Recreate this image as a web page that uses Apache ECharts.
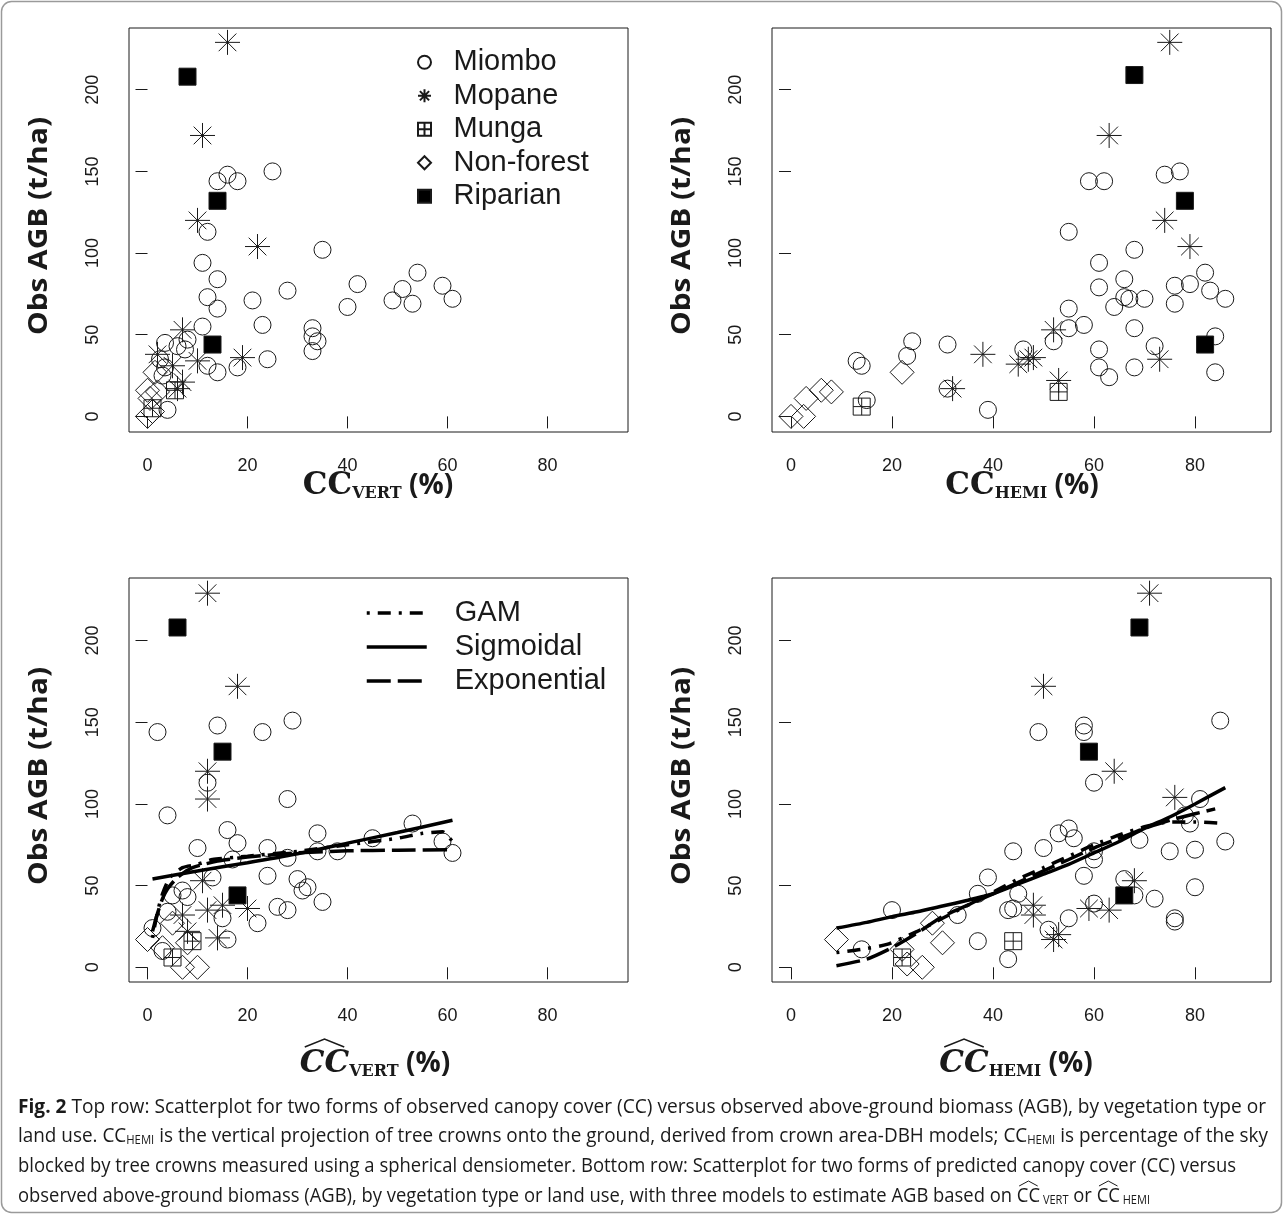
<!DOCTYPE html>
<html><head><meta charset="utf-8">
<script src="https://cdn.jsdelivr.net/npm/echarts@6/dist/echarts.min.js"></script>
<style>html,body{margin:0;padding:0;background:#fff}#c{width:1284px;height:1215px}</style>
</head><body><div id="c"></div>
<script>
// ---------- tick labels ----------
const xTicks = [0, 20, 40, 60, 80];
const yTicks = [0, 50, 100, 150, 200];
const vegTypes = ['Miombo', 'Mopane', 'Munga', 'Non-forest', 'Riparian'];
const modelNames = ['GAM', 'Sigmoidal', 'Exponential'];

// ---------- top-left: CC_VERT vs Obs AGB ----------
const tlMiombo = [[25,150],[16,148],[14,144],[18,144],[12,113],[35,102],[11,94],[54,88],[14,84],[42,81],[59,80],[51,78],[28,77],[12,73],[21,71],[49,71],[61,72],[53,69],[40,67],[14,66],[23,56],[11,55],[33,54],[33,49],[34,46],[8,47],[3.5,45],[6,43],[33,40],[7.5,41],[24,35],[2.5,35],[12,31],[18,30],[14,27],[3.5,30],[4,4],[3,25]];
const tlMopane = [[16,229],[11,172],[10,120],[22,104],[7,53],[2,38],[19,36],[10,34],[5,31],[7,21],[6,17]];
const tlMunga = [[1,5],[5.5,16]];
const tlNonForest = [[0,0],[1,3],[0.5,11],[0,16],[2,15],[1.5,27]];
const tlRiparian = [[8,208],[14,132],[13,44]];

// ---------- top-right: CC_HEMI vs Obs AGB ----------
const trMiombo = [[13,34],[14,31],[15,10],[24,46],[23,37],[31,44],[31,17],[39,4],[46,41],[55,113],[59,144],[62,144],[74,148],[77,150],[68,102],[61,94],[61,79],[66,84],[67,72],[66,73],[64,67],[70,72],[76,80],[76,69],[79,81],[82,88],[83,77],[86,72],[55,66],[55,54],[58,56],[52,46],[61,41],[61,30],[63,24],[68,54],[68,30],[72,43],[84,49],[84,27]];
const trMopane = [[75,229],[63,172],[74,120],[79,104],[52,53],[38,38],[48,36],[47,35],[45,32],[73,35],[53,22],[32,17]];
const trMunga = [[14,6],[53,15]];
const trNonForest = [[0,0],[2.5,0],[3,11],[6,16],[8,15],[22,27]];
const trRiparian = [[68,209],[78,132],[82,44]];

// ---------- bottom-left: predicted CC_VERT vs Obs AGB ----------
const blMiombo = [[2,144],[14,148],[23,144],[29,151],[12,113],[4,93],[28,103],[16,84],[18,76],[10,73],[24,73],[34,82],[34,71],[38,71],[45,79],[53,88],[59,77],[61,70],[28,67],[17,66],[24,56],[30,54],[32,49],[31,47],[35,40],[26,37],[28,35],[22,27],[13,55],[15,30],[16,17],[7,47],[8,43],[5,44],[4,34],[1,24],[3,10]];
const blMopane = [[12,229],[18,172],[12,120],[12,103],[11,53],[15,38],[20,36],[12,35],[7,32],[8,22],[14,18]];
const blMunga = [[5,6],[9,16]];
const blNonForest = [[0,17],[7,0],[10,0],[3,12],[8,15],[5,27]];
const blRiparian = [[6,208],[15,132],[18,44]];
const blGAM = [[1,18],[2,34],[3,45],[4.5,55],[7,61],[10,63],[13,66],[20,68],[30,71],[40,75],[50,79],[55,82],[59,83],[61,77]];
const blSigmoidal = [[1,54],[10,59],[20,64],[30,69.5],[40,76],[50,82.5],[61,90]];
const blExponential = [[1,22],[2,33],[3,42],[4,48],[6,55],[9,61],[14,65],[20,67.5],[30,70],[40,71.3],[50,71.7],[61,72]];

// ---------- bottom-right: predicted CC_HEMI vs Obs AGB ----------
const brMiombo = [[49,144],[58,148],[58,144],[85,151],[60,113],[81,103],[78,93],[55,85],[53,82],[56,79],[50,73],[44,71],[60,71],[60,66],[69,78],[75,71],[80,72],[86,77],[79,88],[58,56],[66,54],[68,44],[72,42],[80,49],[76,30],[76,28],[55,30],[51,23],[60,39],[44,36],[43,35],[39,55],[37,45],[45,45],[20,35],[33,32],[14,11],[37,16],[43,5]];
const brMopane = [[71,229],[50,172],[64,120],[76,104],[68,53],[48,38],[48,32],[59,36],[63,35],[53,20],[52,17]];
const brMunga = [[22,6],[44,16]];
const brNonForest = [[9,17],[28,27],[30,15],[26,0],[22,11],[23,2]];
const brRiparian = [[69,208],[59,132],[66,44]];
const brGAM = [[9,9],[14,11],[19,14],[25,22],[30,30],[35,38],[40,46],[45,54],[50,61],[55,68],[60,75],[65,81],[70,86],[75,89],[80,89],[86,88]];
const brSigmoidal = [[9,24],[15,27.5],[20,31],[25,34],[30,37.5],[35,41],[40,45],[45,51],[50,57],[55,63],[60,70],[65,77],[70,85],[75,92],[80,100],[86,110]];
const brExponential = [[9,1],[15,5],[20,12],[25,21],[30,31],[35,38],[40,45],[45,52],[50,59],[55,66],[60,73],[65,79],[70,85],[75,90],[80,94],[84,97]];

// ---------- layout ----------
const INK = '#1a1a1a';
const grids = [
  {left:129, top:28, width:499, height:404},
  {left:772, top:28, width:499, height:404},
  {left:129, top:578, width:499, height:404},
  {left:772, top:578, width:499, height:404}
];
const xRanges = [[-3.7,96.1],[-3.76,95.05],[-3.7,96.1],[-3.76,95.05]];
const yRanges = [[-9.55,237.8],[-9.55,237.8],[-9.0,238.3],[-9.0,238.3]];

const STAR = 'path://M0,-10L0,10M-10,0L10,0M-7.07,-7.07L7.07,7.07M-7.07,7.07L7.07,-7.07';
const BOXPLUS = 'path://M0,0L10,0L10,10L0,10ZM5,0L5,10M0,5L10,5';
const DIAMOND = 'path://M0,-10L10,0L0,10L-10,0Z';
const SQUARE = 'path://M0,0L10,0L10,10L0,10Z';
const symDefs = {
  'Miombo': {symbol:'circle', size:17, fill:'rgba(0,0,0,0)'},
  'Mopane': {symbol:STAR, size:25, fill:'rgba(0,0,0,0)'},
  'Munga': {symbol:BOXPLUS, size:17, fill:'rgba(0,0,0,0)'},
  'Non-forest': {symbol:DIAMOND, size:24, fill:'rgba(0,0,0,0)'},
  'Riparian': {symbol:SQUARE, size:17, fill:'#000'}
};
const panelData = [
  [tlMiombo, tlMopane, tlMunga, tlNonForest, tlRiparian],
  [trMiombo, trMopane, trMunga, trNonForest, trRiparian],
  [blMiombo, blMopane, blMunga, blNonForest, blRiparian],
  [brMiombo, brMopane, brMunga, brNonForest, brRiparian]
];
const modelData = {2:[blGAM, blSigmoidal, blExponential], 3:[brGAM, brSigmoidal, brExponential]};
const dashes = {'GAM':[3,8,13,8], 'Sigmoidal':'solid', 'Exponential':[24,7]};

const series = [];
panelData.forEach((arrs, g) => {
  arrs.forEach((d, i) => {
    const name = vegTypes[i], s = symDefs[name];
    series.push({type:'scatter', name, xAxisIndex:g, yAxisIndex:g, data:d, symbol:s.symbol, symbolSize:s.size,
      itemStyle:{color:s.fill, borderColor:INK, borderWidth:1, opacity:1}, z:2, silent:true});
  });
});
Object.keys(modelData).forEach(g => {
  modelData[g].forEach((d, i) => {
    const name = modelNames[i];
    series.push({type:'line', name, xAxisIndex:+g, yAxisIndex:+g, data:d, symbol:'none', showSymbol:false, smooth:0.2,
      lineStyle:{color:'#000', width:3.5, type:dashes[name]}, itemStyle:{color:'#000'}, z:4, silent:true});
  });
});

const xAxis = grids.map((gr, g) => ({type:'value', gridIndex:g, min:xRanges[g][0], max:xRanges[g][1],
  axisLine:{show:false}, splitLine:{show:false},
  axisTick:{show:true, length:12, customValues:xTicks, lineStyle:{color:INK, width:1}},
  axisLabel:{customValues:xTicks, margin:25, fontSize:18, fontFamily:'Liberation Sans', color:INK}}));
const yAxis = grids.map((gr, g) => ({type:'value', gridIndex:g, min:yRanges[g][0], max:yRanges[g][1],
  axisLine:{show:false}, splitLine:{show:false},
  axisTick:{show:true, length:12, customValues:yTicks, lineStyle:{color:INK, width:1}},
  axisLabel:{customValues:yTicks, rotate:90, margin:27, fontSize:18, fontFamily:'Liberation Sans', color:INK}}));

// ---------- text layout helpers ----------
const mctx = document.createElement('canvas').getContext('2d');
function tw(t, f){ mctx.font = f; return mctx.measureText(t).width; }
const graphics = [];
function placeSegs(segs, x0, yc, sc, hatOpt){
  let x = x0;
  segs.forEach(s => {
    const w = tw(s.t, s.f) * sc;
    graphics.push({type:'text', x:x, y:yc + (s.dy || 0), scaleX:sc, silent:true,
      style:{text:s.t, font:s.f, fill:s.c || INK, verticalAlign:'middle', align:'left'}});
    if (s.hat) {
      const h = hatOpt;
      graphics.push({type:'polyline', silent:true, shape:{points:[[x + w*0.1, yc + h.base],[x + w*0.5, yc + h.peak],[x + w*0.9, yc + h.base]]},
        style:{stroke:INK, lineWidth:h.lw, fill:null}});
    }
    x += w;
  });
  return x;
}
function segsWidth(segs, sc){ return segs.reduce((a, s) => a + tw(s.t, s.f) * sc, 0); }

// caption (per-line widths)
const CAP = '20px "Open Sans"', CAPB = 'bold 20px "Open Sans"', CSUB = '12px "Open Sans"';
const capLines = [
  [{t:'Fig. 2', f:CAPB}, {t:' Top row: Scatterplot for two forms of observed canopy cover (CC) versus observed above-ground biomass (AGB), by vegetation type or', f:CAP}],
  [{t:'land use. CC', f:CAP}, {t:'HEMI', f:CSUB, dy:5}, {t:' is the vertical projection of tree crowns onto the ground, derived from crown area-DBH models; CC', f:CAP}, {t:'HEMI', f:CSUB, dy:5}, {t:' is percentage of the sky', f:CAP}],
  [{t:'blocked by tree crowns measured using a spherical densiometer. Bottom row: Scatterplot for two forms of predicted canopy cover (CC) versus', f:CAP}],
  [{t:'observed above-ground biomass (AGB), by vegetation type or land use, with three models to estimate AGB based on ', f:CAP}, {t:'CC', f:CAP, hat:true}, {t:' VERT', f:CSUB, dy:5}, {t:' or ', f:CAP}, {t:'CC', f:CAP, hat:true}, {t:' HEMI', f:CSUB, dy:5}]
];
const capWidths = [1248, 1250, 1218, 1132];
const capY = [1107, 1136, 1166, 1196];
capLines.forEach((l, i) => placeSegs(l, 18, capY[i], capWidths[i] / segsWidth(l, 1), {base:-10, peak:-15, lw:1}));

// axis titles
const TSER = 'bold 31px "DejaVu Serif"', TSERI = 'italic bold 31px "DejaVu Serif"', TSUB = 'bold 16px "DejaVu Serif"', TSANS = 'bold 28px "Open Sans"';
function xTitle(cx, cy, sub, hat){
  const segs = [{t:'CC', f: hat ? TSERI : TSER, hat:hat}, {t:sub, f:TSUB, dy:8}, {t:' (%)', f:TSANS}];
  const w = segsWidth(segs, 1);
  placeSegs(segs, cx - w/2, cy, 1, {base:-17, peak:-25, lw:1.6});
}
xTitle(378, 486, 'VERT', false);
xTitle(1022, 486, 'HEMI', false);
xTitle(375, 1064, 'VERT', true);
xTitle(1016, 1064, 'HEMI', true);

const YT = 'bold 27px "Open Sans"';
const ytScale = 218 / tw('Obs AGB (t/ha)', YT);
[[39,226],[682,226],[39,776],[682,776]].forEach(p => {
  graphics.push({type:'text', x:p[0], y:p[1], rotation:Math.PI/2, scaleX:ytScale, silent:true,
    style:{text:'Obs AGB (t/ha)', font:YT, fill:INK, align:'center', verticalAlign:'middle'}});
});

// figure frame
graphics.unshift({type:'rect', silent:true, z:-10, shape:{x:1.5, y:1.5, width:1280, height:1211, r:10},
  style:{fill:null, stroke:'#9a9a9a', lineWidth:1.5}});

const option = {
  animation:false,
  backgroundColor:'#fff',
  grid: grids.map(g => Object.assign({show:true, borderColor:INK, borderWidth:1, backgroundColor:'rgba(0,0,0,0)', containLabel:false, outerBoundsMode:'none'}, g)),
  xAxis, yAxis,
  legend:[
    {data:vegTypes, orient:'vertical', left:417, top:45.5, padding:0, itemGap:0, itemWidth:20, itemHeight:13, selectedMode:false,
     textStyle:{fontSize:29, fontFamily:'Liberation Sans', color:INK, lineHeight:33.5, padding:[0,0,0,14]}},
    {data:modelNames, orient:'vertical', left:365, top:596, padding:0, itemGap:0, itemWidth:60, itemHeight:14, selectedMode:false,
     itemStyle:{color:'rgba(0,0,0,0)', borderWidth:0, opacity:0},
     lineStyle:{width:3.5}, textStyle:{fontSize:29, fontFamily:'Liberation Sans', color:INK, lineHeight:34, padding:[0,0,0,23]}}
  ],
  series,
  graphic:{elements:graphics}
};
const chart = echarts.init(document.getElementById('c'), null, {renderer:'canvas'});
chart.setOption(option);
</script></body></html>
